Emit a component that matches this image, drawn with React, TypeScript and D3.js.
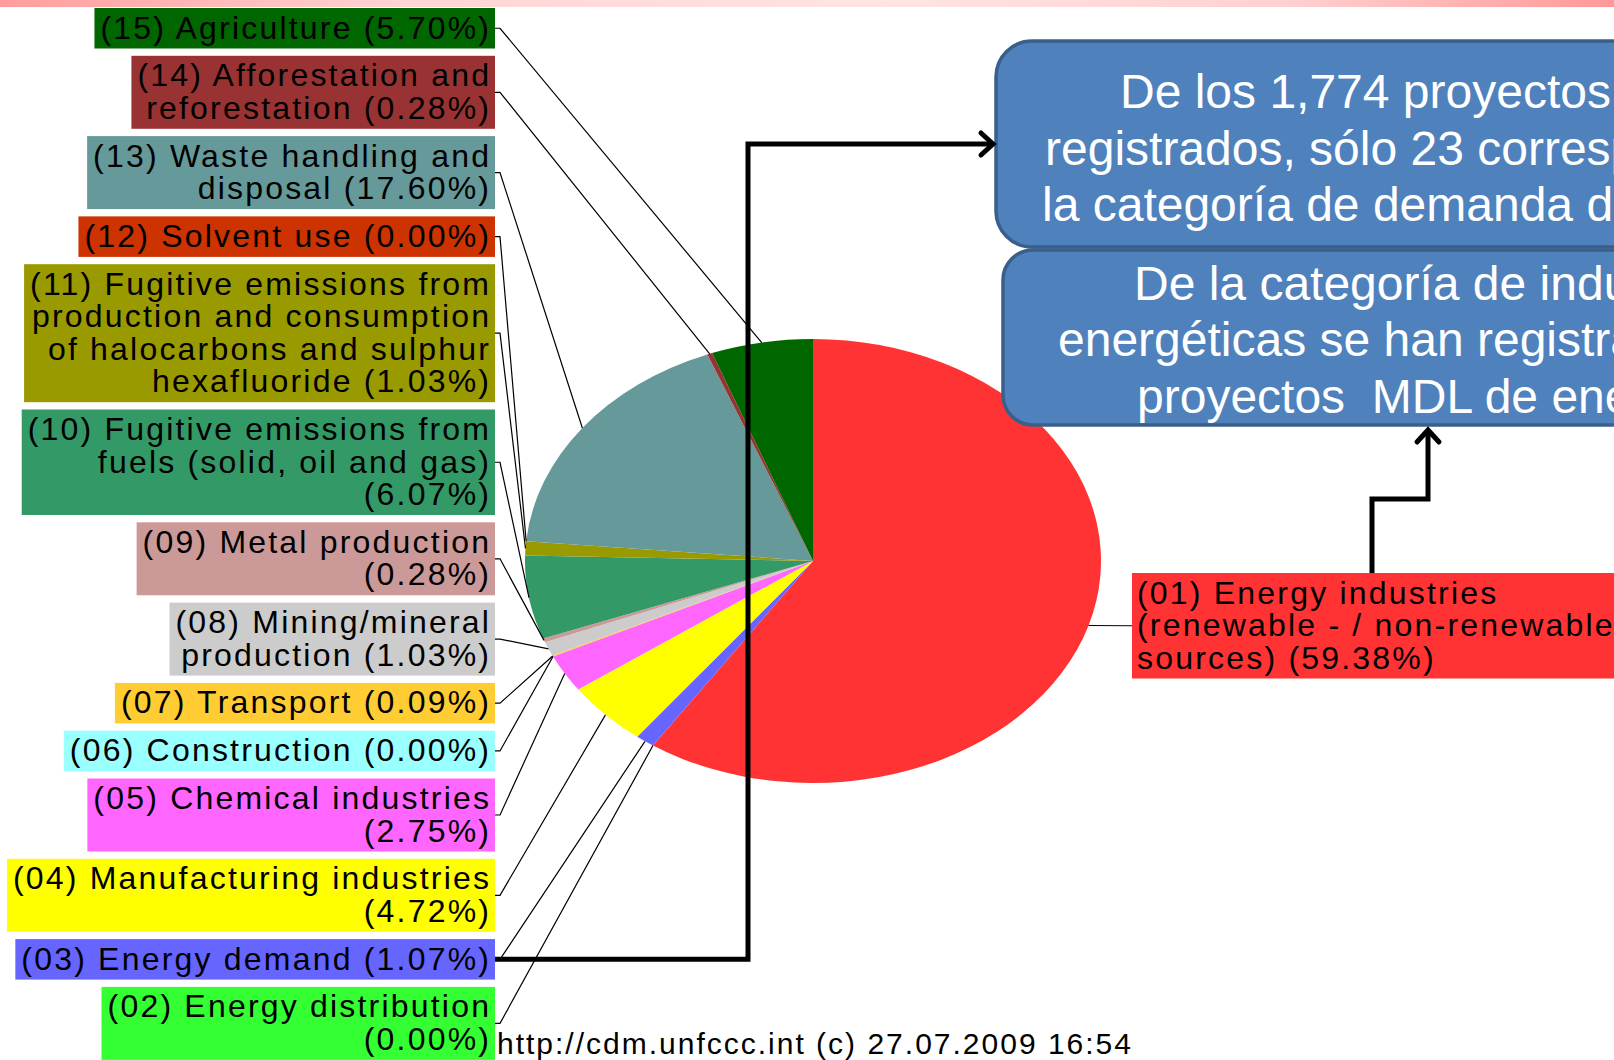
import React, { useEffect, useRef } from "react";
import * as d3 from "d3";

// ---- data ----
const codes = ["01", "02", "03", "04", "05", "06", "07", "08", "09", "10", "11", "12", "13", "14", "15"];
const names = [
  "Energy industries\n(renewable - / non-renewable\nsources)",
  "Energy distribution\n",
  "Energy demand",
  "Manufacturing industries\n",
  "Chemical industries\n",
  "Construction",
  "Transport",
  "Mining/mineral\nproduction",
  "Metal production\n",
  "Fugitive emissions from\nfuels (solid, oil and gas)\n",
  "Fugitive emissions from\nproduction and consumption\nof halocarbons and sulphur\nhexafluoride",
  "Solvent use",
  "Waste handling and\ndisposal",
  "Afforestation and\nreforestation",
  "Agriculture",
];
const values = [59.38, 0.0, 1.07, 4.72, 2.75, 0.0, 0.09, 1.03, 0.28, 6.07, 1.03, 0.0, 17.6, 0.28, 5.7];
const colors = [
  "#FF3333", "#33FF33", "#6666FF", "#FFFF00", "#FF66FF", "#99FFFF", "#FFCC33", "#CCCCCC",
  "#CC9999", "#339966", "#999900", "#CC3300", "#669999", "#993333", "#006600",
];
const sourceNote = "http://cdm.unfccc.int (c) 27.07.2009 16:54";
const box1Lines = ["De los 1,774 proyectos MDL", "registrados, sólo 23 corresponden a", "la categoría de demanda de energía"];
const box2Lines = ["De la categoría de industrias", "energéticas se han registrado", "proyectos  MDL de energía renovable"];

export default function App() {
  const ref = useRef<SVGSVGElement>(null);

  useEffect(() => {
    const W = 1614;
    const svg = d3.select(ref.current!);
    svg.selectAll("*").remove();

    const LABEL_FONT = "'Liberation Sans', Arial, sans-serif";
    const FS = 32, LS = 2.2, LH = 32.5, PAD = 4, GAP = 7.3;

    // top band
    const defs = svg.append("defs");
    const grad = defs.append("linearGradient").attr("id", "topband").attr("x1", "0").attr("x2", "1").attr("y1", "0").attr("y2", "0");
    [[0, "#ff9c9c"], [0.25, "#ffd4d4"], [0.55, "#ffe4e4"], [0.8, "#ffd0d0"], [1, "#ff9898"]].forEach(([o, c]) =>
      grad.append("stop").attr("offset", String(o)).attr("stop-color", String(c))
    );
    svg.append("rect").attr("x", 0).attr("y", 0).attr("width", W).attr("height", 7).attr("fill", "url(#topband)");

    const data = codes.map((c, i) => ({
      code: c,
      value: values[i],
      color: colors[i],
      lines: `(${c}) ${names[i]} (${values[i].toFixed(2)}%)`.split("\n").map((s) => s.trim()),
    }));

    // pie (ellipse)
    const cx = 813, cy = 561, rx = 288, ry = 222;
    const arcs = d3.pie<any>().sort(null).value((d: any) => d.value).startAngle(0).endAngle(2 * Math.PI)(data);
    const arc = d3.arc<any>().innerRadius(0).outerRadius(ry);
    svg.append("g")
      .attr("transform", `translate(${cx},${cy}) scale(${rx / ry},1)`)
      .selectAll("path")
      .data(arcs.filter((a) => a.value > 0))
      .join("path")
      .attr("d", arc as any)
      .attr("fill", (d: any) => d.data.color);

    const edge = (a: any) => {
      const m = (a.startAngle + a.endAngle) / 2;
      return [cx + rx * Math.sin(m), cy - ry * Math.cos(m)];
    };

    const lines = svg.append("g").attr("fill", "none").attr("stroke", "#000").attr("stroke-width", 1.2);
    const labels = svg.append("g");

    // left labels, 15 at top down to 02
    let y = 8;
    const boxRight = 495;
    let demandCenter = 0;
    for (let i = data.length - 1; i >= 1; i--) {
      const d = data[i];
      const h = d.lines.length * LH + 2 * PAD;
      const g = labels.append("g");
      const rect = g.append("rect");
      let maxW = 0;
      d.lines.forEach((ln, k) => {
        const t = g.append("text")
          .attr("x", boxRight - 6 + LS)
          .attr("y", y + PAD + k * LH + 26.5)
          .attr("text-anchor", "end")
          .attr("font-family", LABEL_FONT)
          .attr("font-size", FS)
          .attr("letter-spacing", LS)
          .attr("fill", "#000")
          .text(ln);
        const w = (t.node() as SVGTextElement).getComputedTextLength();
        maxW = Math.max(maxW, w);
      });
      rect.attr("x", boxRight - maxW - 12 + LS).attr("y", y).attr("width", maxW + 12 - LS).attr("height", h).attr("fill", d.color);
      const mid = y + h / 2;
      if (d.code === "03") demandCenter = mid;
      const [ex, ey] = edge(arcs[i]);
      lines.append("path").attr("d", `M${boxRight},${mid}L${boxRight + 5},${mid}L${ex},${ey}`);
      y += h + GAP;
    }

    // right label 01
    {
      const d = data[0];
      const bx = 1132, by = 573;
      const h = d.lines.length * LH + 2 * PAD;
      const g = labels.append("g");
      const rect = g.append("rect");
      let maxW = 0;
      d.lines.forEach((ln, k) => {
        const t = g.append("text")
          .attr("x", bx + 5)
          .attr("y", by + PAD + k * LH + 26.5)
          .attr("font-family", LABEL_FONT)
          .attr("font-size", FS)
          .attr("letter-spacing", LS)
          .attr("fill", "#000")
          .text(ln);
        maxW = Math.max(maxW, (t.node() as SVGTextElement).getComputedTextLength());
      });
      rect.attr("x", bx).attr("y", by).attr("width", maxW + 12).attr("height", h).attr("fill", d.color);
      const [ex, ey] = edge(arcs[0]);
      lines.append("path").attr("d", `M${ex},${ey}L${bx},${by + h / 2}`);
    }

    // source note
    svg.append("text")
      .attr("x", 497).attr("y", 1054)
      .attr("font-family", LABEL_FONT).attr("font-size", 30).attr("letter-spacing", 2.0)
      .attr("fill", "#000").text(sourceNote);

    // blue boxes
    const BOX_FONT = "'Liberation Sans', Arial, sans-serif";
    svg.append("rect").attr("x", 996).attr("y", 41).attr("width", 900).attr("height", 206).attr("rx", 36)
      .attr("fill", "#4F81BD").attr("stroke", "#3A5F8B").attr("stroke-width", 3.5);
    const b1x = [1120, 1045, 1042], b1y = [108, 165, 221];
    box1Lines.forEach((t, k) =>
      svg.append("text").attr("x", b1x[k]).attr("y", b1y[k]).attr("font-family", BOX_FONT).attr("font-size", 48)
        .attr("fill", "#fff").style("white-space", "pre").text(t)
    );
    svg.append("rect").attr("x", 1003).attr("y", 250).attr("width", 900).attr("height", 175).attr("rx", 30)
      .attr("fill", "#4F81BD").attr("stroke", "#3A5F8B").attr("stroke-width", 3.5);
    const b2x = [1134, 1058, 1137], b2y = [300, 356, 413];
    box2Lines.forEach((t, k) =>
      svg.append("text").attr("x", b2x[k]).attr("y", b2y[k]).attr("font-family", BOX_FONT).attr("font-size", 48)
        .attr("fill", "#fff").style("white-space", "pre").text(t)
    );

    // thick connectors
    const conn = svg.append("g").attr("fill", "none").attr("stroke", "#000").attr("stroke-width", 5);
    conn.append("path").attr("d", `M${boxRight},${demandCenter}H748V144H990`).attr("stroke-linejoin", "miter");
    conn.append("path").attr("d", "M981,133L993,144L981,155").attr("stroke-linecap", "round");
    conn.append("path").attr("d", "M1372,573V499H1428V432").attr("stroke-linejoin", "miter");
    conn.append("path").attr("d", "M1417,442L1428,430L1439,442").attr("stroke-linecap", "round");
  }, []);

  return (
    <svg
      ref={ref}
      width={1614}
      height={1060}
      style={{ position: "absolute", left: 0, top: 0, display: "block", background: "#fff" }}
    />
  );
}
